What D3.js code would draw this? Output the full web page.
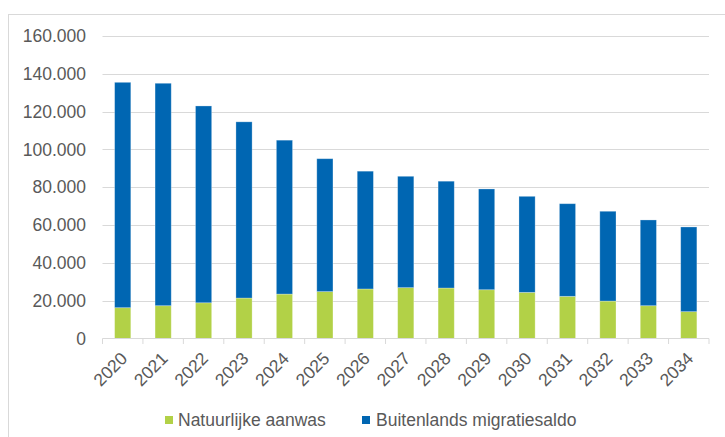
<!DOCTYPE html>
<html>
<head>
<meta charset="utf-8">
<script src="https://cdn.jsdelivr.net/npm/d3@7"></script>
<style>
body { margin: 0; background: #fff; }
svg text { font-family: "Liberation Sans", Arial, sans-serif; fill: #595959; }
</style>
</head>
<body>
<svg id="chart" width="725" height="437"></svg>
<script>
var years = ["2020", "2021", "2022", "2023", "2024", "2025", "2026", "2027", "2028", "2029", "2030", "2031", "2032", "2033", "2034"];
var natuurlijk = [16300, 17350, 18900, 21400, 23500, 24800, 26200, 26900, 26700, 25800, 24400, 22300, 19800, 17350, 14200];
var migratie = [119200, 117650, 104100, 93200, 81400, 70300, 62300, 58900, 56500, 53300, 50800, 49000, 47500, 45350, 44800];
var yTicks = [0, 20000, 40000, 60000, 80000, 100000, 120000, 140000, 160000];
var seriesNames = ["Natuurlijke aanwas", "Buitenlands migratiesaldo"];
var colors = ["#b2d147", "#0066b2"];

var svg = d3.select("#chart");

// outer frame (runs off the right and bottom edge)
svg.append("rect")
.attr("x", 8.5).attr("y", 14.5)
.attr("width", 800).attr("height", 500)
.attr("fill", "none")
.attr("stroke", "#d9d9d9");

var x = d3.scaleBand().domain(years).range([102.5, 709]).paddingInner(0.6).paddingOuter(0.3);
var y = d3.scaleLinear().domain([0, 160000]).range([338.5, 36]);

// gridlines
svg.append("g").selectAll("line")
.data(yTicks.slice(1))
.enter().append("line")
.attr("x1", 102.5).attr("x2", 709)
.attr("y1", function(d) { return Math.round(y(d)) + 0.5; })
.attr("y2", function(d) { return Math.round(y(d)) + 0.5; })
.attr("stroke", "#d9d9d9");

// y labels
svg.append("g").selectAll("text")
.data(yTicks)
.enter().append("text")
.attr("x", 86)
.attr("y", function(d) { return y(d); })
.attr("dy", "0.35em")
.attr("text-anchor", "end")
.style("font-size", "17.5px")
.text(function(d) { return d3.format(",")(d).replace(/,/g, "."); });

// stacked bars
var table = years.map(function(yr, i) { return { year: yr, nat: natuurlijk[i], mig: migratie[i] }; });
var stack = d3.stack().keys(["nat", "mig"])(table);

svg.append("g").selectAll("g")
.data(stack)
.enter().append("g")
.attr("fill", function(d, i) { return colors[i]; })
.selectAll("rect")
.data(function(d) { return d; })
.enter().append("rect")
.attr("x", function(d) { return x(d.data.year); })
.attr("y", function(d) { return y(d[1]); })
.attr("width", x.bandwidth())
.attr("height", function(d) { return y(d[0]) - y(d[1]); })
.attr("stroke", "#ffffff")
.attr("stroke-opacity", 0.35)
.attr("stroke-width", 0.8);

// x axis line and ticks
var xAxis = svg.append("g");
xAxis.append("line")
.attr("x1", 102.5).attr("x2", 709)
.attr("y1", 338.5).attr("y2", 338.5)
.attr("stroke", "#d9d9d9");
var step = x.step();
xAxis.selectAll(".tk")
.data(d3.range(years.length + 1))
.enter().append("line")
.attr("class", "tk")
.attr("x1", function(i) { return 102.5 + i * step; })
.attr("x2", function(i) { return 102.5 + i * step; })
.attr("y1", 338.5).attr("y2", 344)
.attr("stroke", "#d9d9d9");

xAxis.selectAll("text")
.data(years)
.enter().append("text")
.attr("transform", function(d) {
    var cx = x(d) + x.bandwidth() / 2;
    return "translate(" + (cx - 3) + ",351) rotate(-45)";
})
.attr("text-anchor", "end")
.attr("dy", "0.7em")
.style("font-size", "17.5px")
.text(function(d) { return d; });

// legend
var leg = [{ x: 165, tx: 178 }, { x: 362, tx: 376 }];
leg.forEach(function(l, i) {
    svg.append("rect")
    .attr("x", l.x).attr("y", 416)
    .attr("width", 8).attr("height", 8)
    .attr("fill", colors[i]);
    svg.append("text")
    .attr("x", l.tx).attr("y", 426)
    .style("font-size", "17.5px")
    .text(seriesNames[i]);
});
</script>
</body>
</html>
